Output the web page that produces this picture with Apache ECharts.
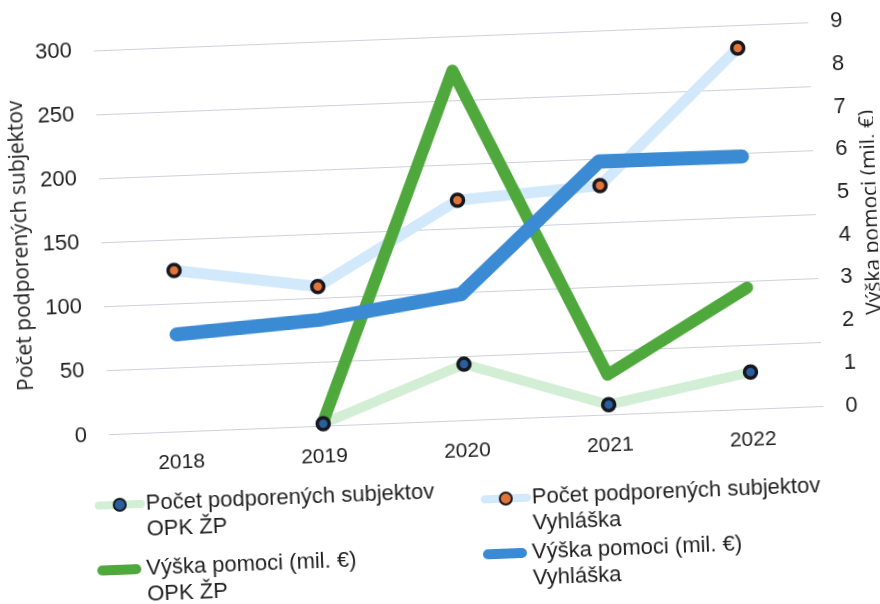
<!DOCTYPE html>
<html><head><meta charset="utf-8">
<script src="https://cdn.jsdelivr.net/npm/echarts@6/dist/echarts.min.js"></script>
<style>
html,body{margin:0;padding:0;background:#fff;overflow:hidden;width:880px;height:604px}
#chart{width:880px;height:604px;transform:rotate(-2.26deg);transform-origin:50% 50%}
</style>
</head><body><div id="chart"></div>
<script>
// Data
const years = ['2018', '2019', '2020', '2021', '2022'];
const countOPK = [null, 2, 44, 8, 29];          // Počet podporených subjektov – OPK ŽP
const countVyhl = [126, 109, 172, 179, 282];     // Počet podporených subjektov – Vyhláška
const aidOPK = [null, 0.1, 8.2, 0.94, 2.85];     // Výška pomoci (mil. €) – OPK ŽP
const aidVyhl = [2.28, 2.49, 2.96, 5.94, 5.92];  // Výška pomoci (mil. €) – Vyhláška
const leftAxisName = 'Počet podporených subjektov';
const rightAxisName = 'Výška pomoci (mil. €)';
const seriesNames = [
  'Počet podporených subjektov\nOPK ŽP',
  'Počet podporených subjektov\nVyhláška',
  'Výška pomoci (mil. €)\nOPK ŽP',
  'Výška pomoci (mil. €)\nVyhláška'
];

const TXT = '#1f1f1f';
const tickFont = 'Liberation Sans';
const titleFont = 'Open Sans';
const C = {
  lightGreen: '#d2eed5', lightBlue: '#d2e8fb', green: '#4ea83c', blue: '#3a8ad4',
  orange: '#e2743a', navyDot: '#2a5f9e', dotBorder: '#16181e', grid: '#cdd1d8'
};
const pill = 'path://M5,0 H39 A5,5 0 0 1 39,10 H5 A5,5 0 0 1 5,0 Z';

const legendText = { color: TXT, fontFamily: tickFont, fontSize: 22, lineHeight: 26 };
function legend(name, left, top, isLine) {
  const l = {
    data: [isLine ? { name } : { name, icon: pill }],
    left, top, padding: 0, orient: 'vertical',
    itemWidth: isLine ? 42 : 44, itemHeight: isLine ? 15 : 10,
    textStyle: legendText, selectedMode: false,
    // leading blank line keeps the icon level with the first text line
    formatter: n => '\n' + n
  };
  if (isLine) l.lineStyle = { width: 8 };
  return l;
}
function countSeries(name, data, lineColor, dotColor, w) {
  return {
    name, type: 'line', data, yAxisIndex: 0,
    symbol: 'circle', symbolSize: 12, showSymbol: true,
    lineStyle: { color: lineColor, width: w, cap: 'round', join: 'round' },
    itemStyle: { color: dotColor, borderColor: C.dotBorder, borderWidth: 3.5 },
    emphasis: { disabled: true }
  };
}
function aidSeries(name, data, color, w) {
  return {
    name, type: 'line', data, yAxisIndex: 1,
    symbol: 'none', showSymbol: false,
    lineStyle: { color, width: w, cap: 'round', join: 'round' },
    itemStyle: { color },
    emphasis: { disabled: true }
  };
}

const chart = echarts.init(document.getElementById('chart'), null, { renderer: 'canvas' });
chart.setOption({
  animation: false,
  backgroundColor: '#fff',
  grid: { left: 104, right: 61, top: 37, bottom: 182.5, containLabel: false, outerBoundsMode: 'none' },
  legend: [
    legend(seriesNames[0], 87, 453, true),
    legend(seriesNames[2], 87, 518, false),
    legend(seriesNames[1], 473, 462, true),
    legend(seriesNames[3], 473, 517, false)
  ],
  xAxis: {
    type: 'category', data: years, boundaryGap: true,
    axisLine: { show: false }, axisTick: { show: false },
    axisLabel: { color: TXT, fontFamily: tickFont, fontSize: 21, margin: 20 }
  },
  yAxis: [
    {
      type: 'value', min: 0, max: 300, interval: 50, position: 'left',
      name: leftAxisName, nameLocation: 'middle', nameGap: 68, nameRotate: 90,
      nameTextStyle: { color: TXT, fontFamily: titleFont, fontSize: 21 },
      axisLine: { show: false }, axisTick: { show: false },
      axisLabel: { color: TXT, fontFamily: tickFont, fontSize: 22, margin: 22 },
      splitLine: { show: true, lineStyle: { color: C.grid, width: 1.2 } }
    },
    {
      type: 'value', min: 0, max: 9, interval: 1, position: 'right',
      name: rightAxisName, nameLocation: 'middle', nameGap: 22, nameRotate: 90,
      nameTextStyle: { color: TXT, fontFamily: titleFont, fontSize: 21 },
      axisLine: { show: false }, axisTick: { show: false },
      axisLabel: { color: TXT, fontFamily: tickFont, fontSize: 22, margin: 22 },
      splitLine: { show: false }
    }
  ],
  series: [
    countSeries(seriesNames[0], countOPK, C.lightGreen, C.navyDot, 10),
    countSeries(seriesNames[1], countVyhl, C.lightBlue, C.orange, 11),
    aidSeries(seriesNames[2], aidOPK, C.green, 12),
    aidSeries(seriesNames[3], aidVyhl, C.blue, 14)
  ]
});
</script></body></html>
